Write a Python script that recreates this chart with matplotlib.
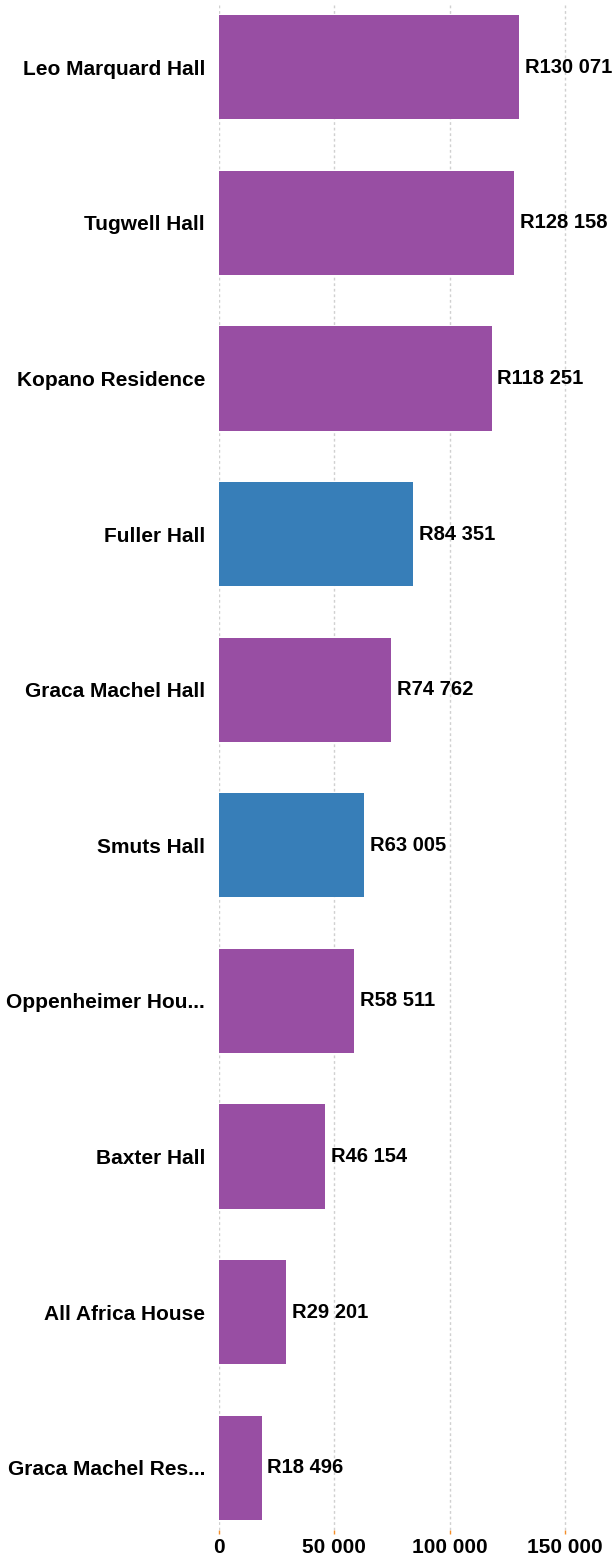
from matplotlib import pyplot
from matplotlib.ticker import FuncFormatter

pyplot.rcParams["font.family"] = ["Liberation Sans", "DejaVu Sans"]

halls = [
    "Leo Marquard Hall",
    "Tugwell Hall",
    "Kopano Residence",
    "Fuller Hall",
    "Graca Machel Hall",
    "Smuts Hall",
    "Oppenheimer Hou...",
    "Baxter Hall",
    "All Africa House",
    "Graca Machel Res...",
]
costs = [130071, 128158, 118251, 84351, 74762, 63005, 58511, 46154, 29201, 18496]
groups = ["f", "f", "f", "m", "f", "m", "f", "f", "f", "f"]
group_colors = {"f": "#984ea3", "m": "#377eb8"}
xticks = [0, 50000, 100000, 150000]


def spaced(value):
    return f"{int(value):,}".replace(",", " ")


fig = pyplot.figure(figsize=(6.16, 15.6), dpi=100)
ax = fig.add_axes([0.3555, 0.0192, 0.64, 0.9776])

positions = list(range(len(halls)))
ax.barh(
    positions,
    costs,
    height=0.67,
    color=[group_colors[g] for g in groups],
    zorder=2,
)
for pos, cost in zip(positions, costs):
    ax.text(
        cost + 2500,
        pos,
        "R" + spaced(cost),
        va="center",
        ha="left",
        fontsize=14.5,
        fontweight="bold",
        zorder=3,
    )

ax.set_ylim(len(halls) - 0.6, -0.4)
ax.set_xlim(0, 171000)
ax.set_yticks(positions)
ax.set_yticklabels(halls, fontsize=15, fontweight="bold")
ax.set_xticks(xticks)
ax.xaxis.set_major_formatter(FuncFormatter(lambda v, p: spaced(v)))
for label in ax.get_xticklabels():
    label.set_fontweight("bold")
    label.set_fontsize(15)
ax.tick_params(axis="y", length=0, pad=10)
ax.tick_params(axis="x", length=3, width=1, color="#f28e2b", pad=3)
ax.grid(axis="x", color="#d0d0d0", linestyle=(0, (2, 2)), linewidth=1, zorder=0)
for spine in ax.spines.values():
    spine.set_visible(False)

pyplot.savefig("out.png", dpi=100)
